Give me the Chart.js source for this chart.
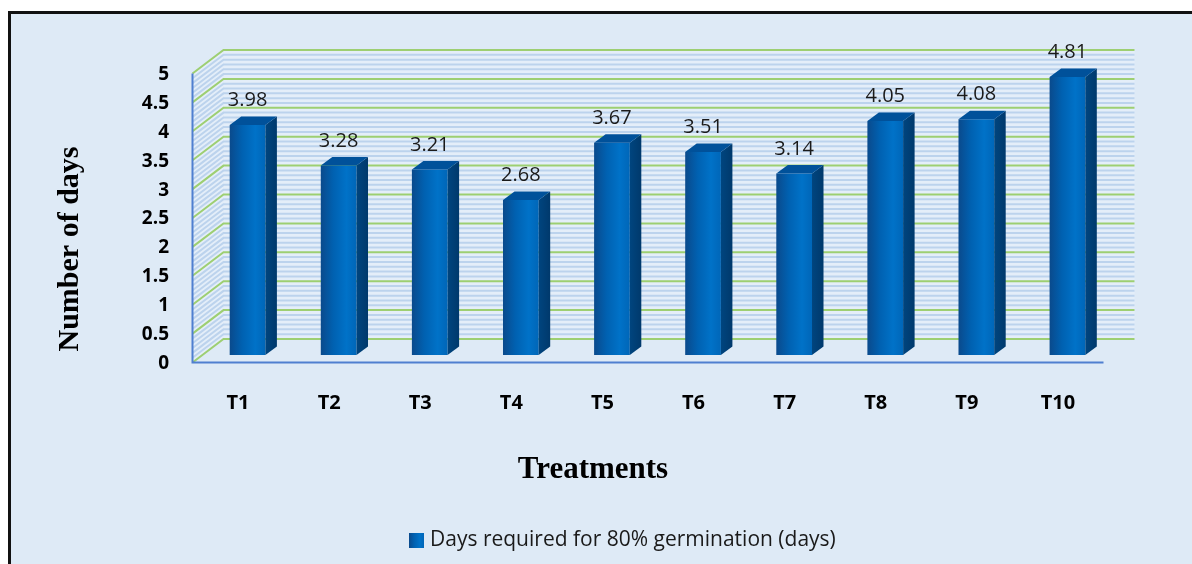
<!DOCTYPE html>
<html><head><meta charset="utf-8">
<script src="https://cdn.jsdelivr.net/npm/chart.js@4.4.0/dist/chart.umd.min.js"></script>
<style>html,body{margin:0;padding:0;background:#fff;}canvas{display:block;}</style>
</head><body>
<canvas id="c" width="1192" height="564"></canvas>
<script>
// ---- data ----
const categories = ['T1','T2','T3','T4','T5','T6','T7','T8','T9','T10'];
const germinationDays = [3.98, 3.28, 3.21, 2.68, 3.67, 3.51, 3.14, 4.05, 4.08, 4.81];
const yTickLabels = ['0','0.5','1','1.5','2','2.5','3','3.5','4','4.5','5'];
const seriesLabel = 'Days required for 80% germination (days)';
const xTitle = 'Treatments';
const yTitle = 'Number of days';

// ---- styling / geometry ----
const DB = {dx: 21.5, dy: -16};   // back wall offset from bar plane
const DF = {dx: -9.5, dy: 7.5};   // front plane offset from bar plane
const BD = {dx: 11.5, dy: -8.5};  // bar depth
const BAR_PCT = 0.392;
const STRIPES = 6;
const BG = '#deeaf6';
const GREEN = '#9dcf72';
const AXIS_BLUE = '#4f7fd0';

function frontGradient(c, x0, x1) {
  const g = c.createLinearGradient(x0, 0, x1, 0);
  g.addColorStop(0, '#0a4a8c');
  g.addColorStop(0.35, '#0061b1');
  g.addColorStop(0.72, '#0072c8');
  g.addColorStop(1, '#0066b8');
  return g;
}

const threeD = {
  id: 'threeD',
  beforeDraw(chart) {
    const c = chart.ctx;
    c.save();
    c.fillStyle = '#fff'; c.fillRect(0, 0, chart.width, chart.height);
    c.fillStyle = BG; c.fillRect(10, 13, chart.width, chart.height);
    c.strokeStyle = '#111'; c.lineWidth = 3;
    c.beginPath(); c.moveTo(9.5, chart.height + 5); c.lineTo(9.5, 12.5); c.lineTo(chart.width + 5, 12.5); c.stroke();
    c.restore();
  },
  beforeDatasetsDraw(chart) {
    const {ctx: c, chartArea: a, scales: {y}} = chart;
    const v0 = y.min, v1 = y.max;
    const bL = a.left + DB.dx, bR = a.right + DB.dx, fL = a.left + DF.dx;
    const yb = v => y.getPixelForValue(v) + DB.dy;
    const yf = v => y.getPixelForValue(v) + DF.dy;
    c.save();
    c.fillStyle = '#e4eef9';
    c.fillRect(bL, yb(v1), bR - bL, yb(v0) - yb(v1));
    c.beginPath(); c.moveTo(fL, yf(v1)); c.lineTo(bL, yb(v1)); c.lineTo(bL, yb(v0)); c.lineTo(fL, yf(v0)); c.closePath(); c.fill();
    const ticks = y.ticks.map(t => t.value);
    c.strokeStyle = '#bcd3ed'; c.lineWidth = 2;
    for (let k = 0; k < ticks.length - 1; k++) {
      const lo = ticks[k], hi = ticks[k + 1];
      for (let j = 1; j < STRIPES; j++) {
        const v = lo + (hi - lo) * j / STRIPES;
        c.beginPath(); c.moveTo(fL, yf(v)); c.lineTo(bL, yb(v)); c.lineTo(bR, yb(v)); c.stroke();
      }
    }
    c.strokeStyle = GREEN; c.lineWidth = 2;
    for (const v of ticks) {
      c.beginPath(); c.moveTo(fL, yf(v)); c.lineTo(bL, yb(v)); c.lineTo(bR, yb(v)); c.stroke();
    }
    c.restore();
  },
  afterDatasetsDraw(chart) {
    const {ctx: c, chartArea: a, scales: {y}} = chart;
    const meta = chart.getDatasetMeta(0);
    c.save();
    meta.data.forEach((el, i) => {
      const xl = el.x - el.width / 2, xr = el.x + el.width / 2, yt = el.y, ybm = el.base;
      // side face
      const sg = c.createLinearGradient(xr, 0, xr + BD.dx, 0);
      sg.addColorStop(0, '#00457f'); sg.addColorStop(1, '#00396c');
      c.fillStyle = sg;
      c.beginPath(); c.moveTo(xr, yt); c.lineTo(xr + BD.dx, yt + BD.dy); c.lineTo(xr + BD.dx, ybm + BD.dy); c.lineTo(xr, ybm); c.closePath(); c.fill();
      // top face
      c.fillStyle = '#00519a';
      c.beginPath(); c.moveTo(xl, yt); c.lineTo(xr, yt); c.lineTo(xr + BD.dx, yt + BD.dy); c.lineTo(xl + BD.dx, yt + BD.dy); c.closePath(); c.fill();
      // value label
      c.fillStyle = '#1a1a1a';
      c.font = '20px "Open Sans"';
      c.textAlign = 'center'; c.textBaseline = 'middle';
      c.fillText(germinationDays[i].toFixed(2), el.x, yt - 24.5);
    });
    // front axis lines
    const fL = a.left + DF.dx, fR = a.right + DF.dx;
    c.strokeStyle = AXIS_BLUE; c.lineWidth = 2;
    c.beginPath();
    c.moveTo(fL, y.getPixelForValue(y.max) + DF.dy);
    c.lineTo(fL, y.getPixelForValue(y.min) + DF.dy);
    c.lineTo(fR, y.getPixelForValue(y.min) + DF.dy);
    c.stroke();
    c.restore();
  },
  afterDraw(chart) {
    const c = chart.ctx;
    c.save();
    c.fillStyle = '#000';
    c.font = 'bold 31px "Liberation Serif"';
    c.textAlign = 'center'; c.textBaseline = 'middle';
    c.fillText(xTitle, 593, 470);
    c.font = 'bold 30px "Liberation Serif"';
    c.translate(70, 249); c.rotate(-Math.PI / 2);
    c.fillText(yTitle, 0, 0);
    c.restore();
    // legend
    c.save();
    c.fillStyle = frontGradient(c, 409, 424);
    c.fillRect(409, 533, 15, 15);
    c.fillStyle = '#1a1a1a';
    c.font = '21px "Open Sans"';
    c.textAlign = 'left'; c.textBaseline = 'middle';
    c.fillText(seriesLabel, 430, 540.5);
    c.restore();
  }
};

new Chart(document.getElementById('c'), {
  type: 'bar',
  data: {
    labels: categories,
    datasets: [{
      label: seriesLabel,
      data: germinationDays,
      barPercentage: BAR_PCT,
      categoryPercentage: 1,
      borderWidth: 0,
      backgroundColor(ctx) {
        const chart = ctx.chart, xs = chart.scales.x;
        if (!xs || ctx.dataIndex === undefined || !xs.width) return '#0068b8';
        const cx = xs.getPixelForValue(ctx.dataIndex);
        const w = xs.width / categories.length * BAR_PCT;
        return frontGradient(chart.ctx, cx - w / 2, cx + w / 2);
      }
    }]
  },
  options: {
    responsive: false,
    animation: false,
    events: [],
    layout: {padding: {left: 0, right: 79, top: 66, bottom: 0}},
    plugins: {legend: {display: false}, tooltip: {enabled: false}, title: {display: false}},
    scales: {
      x: {
        offset: true,
        grid: {display: false, drawTicks: false},
        border: {display: false},
        ticks: {
          color: '#000', padding: 36, labelOffset: -9.5, maxRotation: 0,
          font: {family: '"Open Sans"', size: 20, weight: 'bold'}
        },
        afterFit(s) { s.height = 209; }
      },
      y: {
        min: 0, max: 5,
        grid: {display: false, drawTicks: false},
        border: {display: false},
        afterBuildTicks(s) { s.ticks = yTickLabels.map(t => ({value: parseFloat(t)})); },
        ticks: {
          color: '#000', padding: 33, labelOffset: 8.5,
          font: {family: '"Open Sans"', size: 19, weight: 'bold'},
          callback: (v, i) => yTickLabels[i]
        },
        afterFit(s) { s.width = 202; }
      }
    }
  },
  plugins: [threeD]
});
</script>
</body></html>
